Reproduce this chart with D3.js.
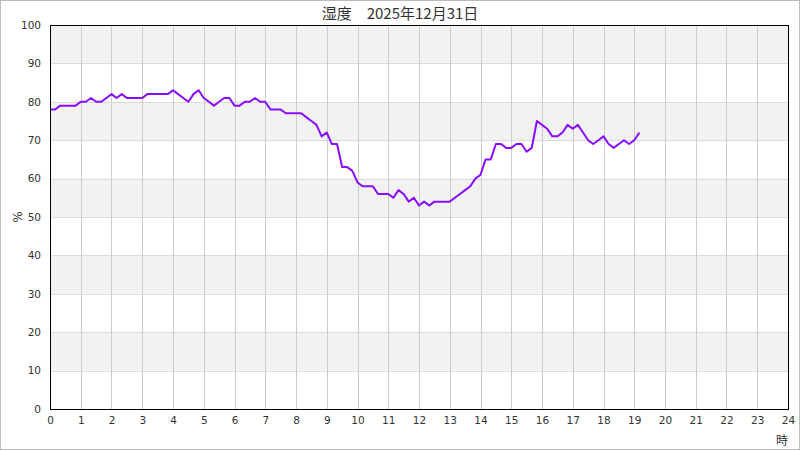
<!DOCTYPE html>
<html><head><meta charset="utf-8">
<script src="https://cdn.jsdelivr.net/npm/d3@7"></script>
<style>html,body{margin:0;padding:0;background:#fff;}svg{display:block;}</style>
</head><body>
<script>
const title = "湿度　2025年12月31日";
const yLabel = "%";
const xLabel = "時";
const stepMinutes = 10;
const humidity = [
 78,78,79,79,79,79,80,80,81,80,
 80,81,82,81,82,81,81,81,81,82,
 82,82,82,82,83,82,81,80,82,83,
 81,80,79,80,81,81,79,79,80,80,
 81,80,80,78,78,78,77,77,77,77,
 76,75,74,71,72,69,69,63,63,62,
 59,58,58,58,56,56,56,55,57,56,
 54,55,53,54,53,54,54,54,54,55,
 56,57,58,60,61,65,65,69,69,68,
 68,69,69,67,68,75,74,73,71,71,
 72,74,73,74,72,70,69,70,71,69,
 68,69,70,69,70,72
];
const xTicks = d3.range(0, 25, 1);
const yTicks = d3.range(0, 101, 10);

const W = 800, H = 450;
const m = {left: 50, right: 12, top: 25, bottom: 41};
const svg = d3.select("body").append("svg").attr("width", W).attr("height", H);
svg.append("rect").attr("x", 0.5).attr("y", 0.5).attr("width", W-1).attr("height", H-1)
  .attr("fill", "#fff").attr("stroke", "#bbb");

const x = d3.scaleLinear().domain([0, 24]).range([m.left, W - m.right]);
const y = d3.scaleLinear().domain([0, 100]).range([H - m.bottom, m.top]);

// bands
const g = svg.append("g");
g.selectAll("rect.band").data(yTicks.slice(0, -1).filter(v => (v/10) % 2 === 1))
  .join("rect").attr("class", "band")
  .attr("x", x(0)).attr("width", x(24) - x(0))
  .attr("y", d => y(d + 10)).attr("height", d => y(d) - y(d + 10))
  .attr("fill", "#f2f2f2");

// horizontal grid
g.selectAll("line.hg").data(yTicks).join("line").attr("class", "hg")
  .attr("x1", x(0)).attr("x2", x(24))
  .attr("y1", d => Math.round(y(d)) + 0.5).attr("y2", d => Math.round(y(d)) + 0.5)
  .attr("stroke", "#dcdcdc");
// vertical grid
g.selectAll("line.vg").data(xTicks).join("line").attr("class", "vg")
  .attr("x1", d => Math.round(x(d)) + 0.5).attr("x2", d => Math.round(x(d)) + 0.5)
  .attr("y1", y(100)).attr("y2", y(0))
  .attr("stroke", "#cccccc");

// line
const line = d3.line()
  .x((d, i) => x(i * stepMinutes / 60))
  .y(d => y(d));
svg.append("path").datum(humidity).attr("d", line)
  .attr("fill", "none").attr("stroke", "#8a0cff").attr("stroke-width", 2)
  .attr("stroke-linejoin", "round");

// frame
svg.append("rect").attr("x", Math.round(x(0)) + 0.5).attr("y", Math.round(y(100)) + 0.5)
  .attr("width", Math.round(x(24)) - Math.round(x(0))).attr("height", Math.round(y(0)) - Math.round(y(100)))
  .attr("fill", "none").attr("stroke", "#000");

// axes
const xa = svg.append("g").attr("transform", `translate(0,${y(0)})`)
  .call(d3.axisBottom(x).tickValues(xTicks).tickSize(0).tickPadding(8).tickFormat(d3.format("d")));
const ya = svg.append("g").attr("transform", `translate(${x(0)},0)`)
  .call(d3.axisLeft(y).tickValues(yTicks).tickSize(0).tickPadding(9));
[xa, ya].forEach(a => {
  a.select(".domain").remove();
  a.selectAll("text").attr("fill", "#333").style("font-family", "'DejaVu Sans', sans-serif").style("font-size", "10.5px");
});

svg.append("text").attr("x", 400).attr("y", 19).attr("text-anchor", "middle")
  .style("font-family", "'Noto Sans CJK JP', sans-serif").style("font-size", "15px").attr("fill", "#333")
  .text(title);
svg.append("text").attr("transform", `translate(22,${y(50)}) rotate(-90)`).attr("text-anchor", "middle")
  .style("font-family", "'DejaVu Sans', sans-serif").style("font-size", "12px").attr("fill", "#333")
  .text(yLabel);
svg.append("text").attr("x", 782).attr("y", 445).attr("text-anchor", "middle")
  .style("font-family", "'Noto Sans CJK JP', sans-serif").style("font-size", "12px").attr("fill", "#333")
  .text(xLabel);
</script>
</body></html>
